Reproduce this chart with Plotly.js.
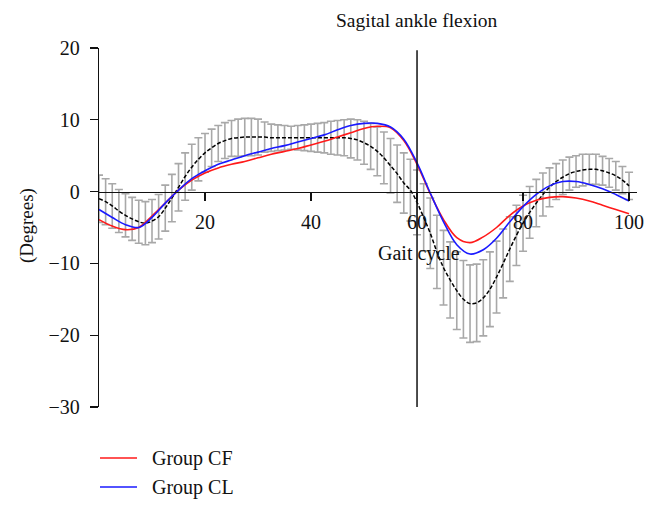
<!DOCTYPE html>
<html>
<head>
<meta charset="utf-8">
<script src="https://cdn.plot.ly/plotly-3.0.1.min.js"></script>
<style>html,body{margin:0;padding:0;background:#fff;}#chart{width:661px;height:511px;}</style>
</head>
<body>
<div id="chart"></div>
<script>
// Gait cycle (%) positions of the normative mean and its SD bars
const gaitX = [0,1.25,2.5,3.75,5,6.25,7.5,8.75,10,11.25,12.5,13.75,15,16.25,17.5,18.75,20,21.25,22.5,23.75,25,26.25,27.5,28.75,30,31.25,32.5,33.75,35,36.25,37.5,38.75,40,41.25,42.5,43.75,45,46.25,47.5,48.75,50,51.25,52.5,53.75,55,56.25,57.5,58.75,60,61.25,62.5,63.75,65,66.25,67.5,68.75,70,71.25,72.5,73.75,75,76.25,77.5,78.75,80,81.25,82.5,83.75,85,86.25,87.5,88.75,90,91.25,92.5,93.75,95,96.25,97.5,98.75,100];
const normMean = [-1.0,-1.4,-2.0,-2.7,-3.3,-3.8,-4.2,-4.4,-4.1,-3.5,-2.3,-0.9,0.6,2.1,3.4,4.5,5.4,6.1,6.7,7.1,7.4,7.5,7.6,7.6,7.6,7.6,7.5,7.5,7.5,7.5,7.5,7.5,7.5,7.5,7.5,7.5,7.5,7.5,7.4,7.2,6.8,6.3,5.6,4.7,3.6,2.5,1.2,0.2,-1.5,-3.6,-5.8,-8.4,-10.6,-12.3,-13.8,-15.0,-15.6,-15.5,-14.8,-13.6,-11.9,-10.0,-8.0,-6.1,-4.4,-2.9,-1.6,-0.4,0.6,1.4,2.0,2.5,2.8,3.0,3.1,3.1,2.9,2.6,2.2,1.6,0.8];
const normSD = [3.3,3.2,3.1,3.0,3.0,3.0,3.0,3.0,3.0,3.1,3.2,3.3,3.3,3.3,3.2,3.0,2.7,2.6,2.5,2.5,2.5,2.6,2.6,2.6,2.5,2.1,1.9,1.8,1.7,1.6,1.7,1.8,1.9,2.0,2.1,2.3,2.4,2.5,2.7,2.8,3.0,3.2,3.4,3.6,3.8,4.0,4.2,4.3,4.5,4.7,4.9,5.1,5.2,5.3,5.4,5.4,5.4,5.4,5.3,5.2,5.0,4.8,4.5,4.2,3.9,3.6,3.3,3.0,2.7,2.5,2.4,2.3,2.2,2.2,2.1,2.1,2.0,2.0,2.0,1.9,1.9];

// Group curves
const groupX = [0,2.5,5,7.5,10,12.5,15,17.5,20,22.5,25,27.5,30,32.5,35,37.5,40,42.5,45,47.5,50,52.5,55,57.5,60,62.5,65,67.5,70,72.5,75,77.5,80,82.5,85,87.5,90,92.5,95,97.5,100];
const groupCF = [-3.9,-4.8,-5.3,-5.0,-3.4,-1.6,0.2,1.6,2.6,3.3,3.8,4.2,4.7,5.2,5.6,6.0,6.5,7.0,7.6,8.2,8.8,9.1,8.9,7.1,3.8,-0.3,-3.9,-6.4,-7.1,-6.3,-5.0,-3.3,-2.0,-1.2,-0.8,-0.7,-0.9,-1.3,-1.9,-2.5,-3.1];
const groupCL = [-2.5,-3.6,-4.6,-5.0,-3.6,-1.6,0.2,1.8,2.9,3.8,4.4,5.0,5.5,6.0,6.4,6.9,7.4,7.9,8.6,9.2,9.5,9.5,9.0,7.3,4.0,-0.2,-4.2,-7.4,-8.7,-8.1,-6.5,-4.2,-2.1,-0.4,0.8,1.4,1.4,1.0,0.4,-0.4,-1.3];

const xTicks = [20,40,60,80,100];
const yTicks = [20,10,0,-10,-20,-30];
const seriesNames = ["Group CF","Group CL"];
const seriesColors = ['#ff1a1a','#1a1aff'];

const serif = "Liberation Serif, Times New Roman, serif";
const ink = '#111';

const traces = [
  {x: gaitX, y: normMean, type:'scatter', mode:'markers', showlegend:false, hoverinfo:'skip',
   marker:{size:1, color:'rgba(0,0,0,0)'},
   error_y:{type:'data', array: normSD, visible:true, color:'#a8a8a8', thickness:1.6, width:4}},
  {x: gaitX, y: normMean, type:'scatter', mode:'lines', showlegend:false,
   line:{color:'#000', width:1.5, dash:'4px,2px', shape:'spline'}},
  {x: groupX, y: groupCF, type:'scatter', mode:'lines', name: seriesNames[0], showlegend:false,
   line:{color:seriesColors[0], width:1.6, shape:'spline'}},
  {x: groupX, y: groupCL, type:'scatter', mode:'lines', name: seriesNames[1], showlegend:false,
   line:{color:seriesColors[1], width:1.6, shape:'spline'}}
];

// manual legend (paper coordinates; plot spans px 99..637 x, 48..407 y)
const pxX = px => (px - 99) / 538;
const pxY = py => (407 - py) / 359;
const legendRows = [458, 487];
const legendShapes = seriesNames.map((n, i) => ({type:'line', xref:'paper', yref:'paper',
  x0: pxX(100), x1: pxX(137), y0: pxY(legendRows[i]), y1: pxY(legendRows[i]),
  line:{color: seriesColors[i], width:1.6}}));
const legendTexts = seriesNames.map((n, i) => ({text:n, xref:'paper', yref:'paper',
  x: pxX(150), y: pxY(legendRows[i]), xanchor:'left', yanchor:'middle', showarrow:false,
  font:{family:serif, size:20, color:ink}}));

const layout = {
  width:661, height:511,
  margin:{l:99, r:24, t:48, b:104},
  paper_bgcolor:'#fff', plot_bgcolor:'#fff',
  font:{family: serif, size:20, color:ink},
  showlegend:false,
  xaxis:{range:[0,101.5], tickvals:xTicks, ticktext:xTicks.map(String),
    showgrid:false, zeroline:false, showline:true, linecolor:ink, linewidth:1.3,
    ticks:'outside', ticklen:8, tickcolor:ink, tickwidth:1.3, ticklabelstandoff:4,
    anchor:'free', position:0.6, tickfont:{family:serif, size:20, color:ink}},
  yaxis:{range:[-30,20], tickvals:yTicks, showgrid:false, zeroline:false,
    showline:true, linecolor:ink, linewidth:1.3, ticks:'outside', ticklen:8,
    tickcolor:ink, tickwidth:1.3, ticklabelstandoff:6, tickfont:{family:serif, size:20, color:ink}},
  shapes:[{type:'line', xref:'x', yref:'y', x0:60, x1:60, y0:-30, y1:19.7,
    line:{color:ink, width:1.5}}].concat(legendShapes),
  annotations:[
    {text:'Sagital ankle flexion', xref:'x', yref:'paper', x:60, y:pxY(20),
     showarrow:false, xanchor:'center', yanchor:'middle', font:{family:serif, size:19.5, color:ink}},
    {text:'Gait cycle', xref:'x', yref:'y', x:60.3, y:-8.6,
     showarrow:false, xanchor:'center', yanchor:'middle', font:{family:serif, size:20, color:ink}},
    {text:'(Degrees)', xref:'paper', yref:'paper', x:pxX(27), y:pxY(226), textangle:-90,
     showarrow:false, xanchor:'center', yanchor:'middle', font:{family:serif, size:19, color:ink}}
  ].concat(legendTexts)
};

Plotly.newPlot('chart', traces, layout, {staticPlot:true, displayModeBar:false});
</script>
</body>
</html>
